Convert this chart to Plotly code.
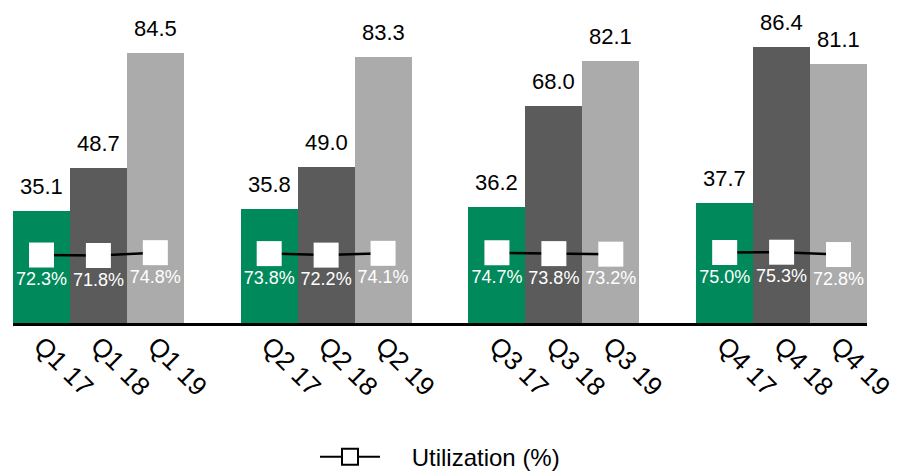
import plotly.graph_objects as go

categories = ["Q1 17", "Q1 18", "Q1 19", "Q2 17", "Q2 18", "Q2 19",
              "Q3 17", "Q3 18", "Q3 19", "Q4 17", "Q4 18", "Q4 19"]
values = [35.1, 48.7, 84.5, 35.8, 49.0, 83.3, 36.2, 68.0, 82.1, 37.7, 86.4, 81.1]
utilization = [72.3, 71.8, 74.8, 73.8, 72.2, 74.1, 74.7, 73.8, 73.2, 75.0, 75.3, 72.8]
year_colors = ["#00895A", "#5B5B5B", "#ABABAB"]

FONT = "Liberation Sans, Arial, sans-serif"

# positions: groups of 3 with one empty slot between groups
xpos = [g * 4 + i for g in range(4) for i in range(3)]
colors = [year_colors[i % 3] for i in range(len(values))]

fig = go.Figure()
fig.add_trace(go.Bar(
    x=xpos, y=values, marker=dict(color=colors, line=dict(width=0)),
    showlegend=False, hoverinfo="skip"))

# utilization line, broken between groups
lx, ly, lt = [], [], []
for g in range(4):
    for i in range(3):
        k = g * 3 + i
        lx.append(xpos[k]); ly.append(utilization[k]); lt.append(f"{utilization[k]:.1f}%")
    if g < 3:
        lx.append(None); ly.append(None); lt.append("")

fig.add_trace(go.Scatter(
    x=lx, y=ly, yaxis="y2", mode="lines+markers+text",
    line=dict(color="black", width=2.5),
    marker=dict(symbol="square", size=25, color="white", line=dict(width=0)),
    text=lt, textposition="bottom center",
    textfont=dict(color="white", size=18, family=FONT),
    connectgaps=False, showlegend=False, hoverinfo="skip"))

# legend entry
fig.add_trace(go.Scatter(
    x=[None], y=[None], yaxis="y2", mode="lines+markers",
    name="\u00a0\u00a0\u00a0\u00a0Utilization (%)",
    line=dict(color="black", width=2),
    marker=dict(symbol="square", size=28, color="white", line=dict(color="black", width=2))))

for x, v in zip(xpos, values):
    fig.add_annotation(x=x, y=v, text=f"{v:.1f}", showarrow=False,
                       yanchor="bottom", yshift=10,
                       font=dict(size=22, color="black", family=FONT))

fig.update_layout(
    width=898, height=471,
    margin=dict(l=5, r=39, t=0, b=156, autoexpand=False),
    plot_bgcolor="white", paper_bgcolor="white",
    bargap=0,
    font=dict(family=FONT, size=22, color="black"),
    xaxis=dict(range=[-0.5, 14.5], tickmode="array", tickvals=xpos, ticktext=categories,
               tickangle=45, showline=True, linecolor="black", linewidth=3,
               showgrid=False, zeroline=False, ticks="", tickfont=dict(size=26),
               ticklabelstandoff=-6, automargin=False),
    yaxis=dict(range=[0, 98.7], visible=False, showgrid=False, zeroline=False),
    yaxis2=dict(range=[0, 335], overlaying="y", visible=False, showgrid=False, zeroline=False),
    legend=dict(orientation="h", x=0.5, xanchor="center", y=-0.426, yanchor="middle",
                font=dict(size=24), itemsizing="trace", itemwidth=60),
)

fig.write_html("out.html")
